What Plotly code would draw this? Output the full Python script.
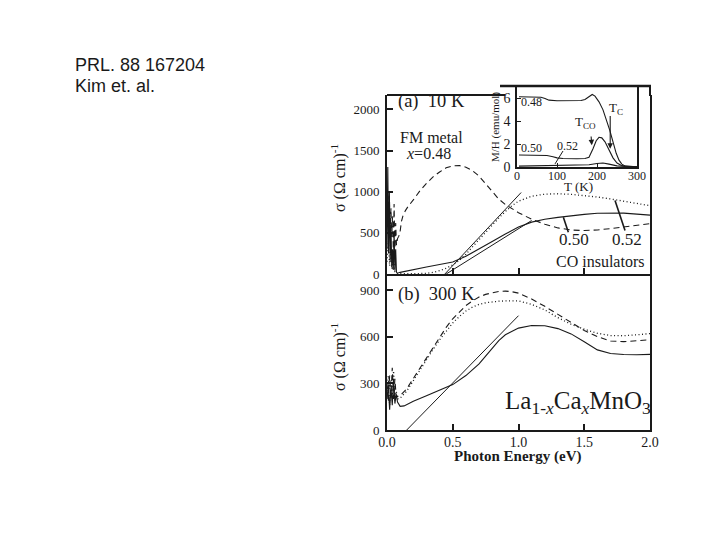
import plotly.graph_objects as go

W, H = 720, 540
OFF = 8  # page body margin of the html page
def fx(p): return (p - OFF) / W
def fy(p): return 1 - (p - OFF) / H

# ---------------- panel (a) 10 K ----------------
a_x048 = [0.0, 0.006, 0.012, 0.018, 0.024, 0.03, 0.036, 0.042, 0.048, 0.054, 0.06, 0.066, 0.072, 0.08, 0.09,
          0.1, 0.11, 0.12, 0.14, 0.16, 0.2, 0.25, 0.3, 0.35, 0.4, 0.45, 0.5, 0.55, 0.6, 0.65, 0.7, 0.75, 0.8,
          0.85, 0.9, 0.95, 1.0, 1.1, 1.2, 1.3, 1.4, 1.5, 1.6, 1.7, 1.8, 1.9, 2.0]
a_y048 = [650, 1000, 700, 950, 500, 800, 450, 700, 300, 850, 250, 620, 350, 430, 460,
          520, 640, 700, 770, 820, 900, 1010, 1100, 1180, 1240, 1290, 1315, 1318, 1298, 1255, 1190, 1100, 1000,
          910, 845, 793, 745, 665, 605, 560, 535, 528, 535, 552, 572, 592, 612]

a_x050 = [0.0, 0.006, 0.012, 0.018, 0.024, 0.03, 0.036, 0.042, 0.048, 0.054, 0.06, 0.066, 0.072, 0.08,
          0.1, 0.2, 0.3, 0.4, 0.5, 0.6, 0.7, 0.8, 0.9, 1.0, 1.1, 1.2, 1.3, 1.4, 1.5, 1.6, 1.7, 1.8, 1.9, 2.0]
a_y050 = [300, 1300, 250, 1000, 150, 600, 80, 300, 50, 500, 40, 300, 20, 10,
          20, 55, 85, 115, 145, 215, 300, 395, 485, 570, 630, 665, 688, 708, 725, 738, 742, 740, 728, 715]

a_x052 = [0.0, 0.01, 0.02, 0.03, 0.04, 0.05, 0.06, 0.08, 0.2, 0.3, 0.35, 0.4, 0.45, 0.5, 0.55, 0.6, 0.65,
          0.7, 0.75, 0.8, 0.85, 0.9, 0.95, 1.0, 1.05, 1.1, 1.2, 1.3, 1.4, 1.5, 1.6, 1.7, 1.8, 1.9, 2.0]
a_y052 = [150, 400, 100, 300, 50, 200, 20, 5, 3, 8, 20, 40, 70, 110, 165, 240, 330,
          420, 510, 600, 680, 760, 830, 885, 920, 945, 970, 975, 968, 955, 935, 912, 882, 855, 830]

a_fit052_x = [0.44, 1.02]
a_fit052_y = [0, 990]
a_fit050_x = [0.45, 1.1]
a_fit050_y = [0, 650]

a_ptr050_x = [1.341, 1.379]
a_ptr050_y = [690, 508]
a_ptr052_x = [1.734, 1.81]
a_ptr052_y = [894, 529]

# ---------------- panel (b) 300 K ----------------
b_x048 = [0.0, 0.01, 0.02, 0.03, 0.04, 0.05, 0.06, 0.07, 0.08, 0.1, 0.15, 0.2, 0.25, 0.3, 0.35, 0.4, 0.45,
          0.5, 0.55, 0.6, 0.65, 0.7, 0.75, 0.8, 0.85, 0.9, 0.95, 1.0, 1.1, 1.2, 1.3, 1.4, 1.5, 1.6, 1.7,
          1.8, 1.9, 2.0]
b_y048 = [300, 180, 350, 220, 400, 200, 330, 210, 215, 220, 265, 330, 396, 462, 530, 598, 660,
          715, 760, 800, 830, 855, 872, 884, 891, 893, 889, 880, 842, 795, 742, 690, 640, 600, 572,
          568, 573, 580]

b_x052 = [0.0, 0.01, 0.02, 0.03, 0.04, 0.05, 0.06, 0.07, 0.08, 0.1, 0.15, 0.2, 0.25, 0.3, 0.35, 0.4, 0.45,
          0.5, 0.55, 0.6, 0.65, 0.7, 0.75, 0.8, 0.85, 0.9, 0.95, 1.0, 1.1, 1.2, 1.3, 1.4, 1.5, 1.6, 1.7,
          1.8, 1.9, 2.0]
b_y052 = [250, 350, 160, 300, 200, 380, 190, 250, 200, 205, 250, 318, 388, 452, 518, 580, 637,
          688, 730, 765, 790, 808, 818, 825, 828, 830, 831, 830, 808, 772, 722, 680, 648, 622, 607,
          606, 612, 620]

b_x050 = [0.0, 0.01, 0.02, 0.03, 0.04, 0.05, 0.06, 0.07, 0.08, 0.1, 0.13, 0.2, 0.3, 0.4, 0.5, 0.6, 0.7,
          0.8, 0.85, 0.9, 1.0, 1.1, 1.2, 1.3, 1.4, 1.5, 1.6, 1.7, 1.8, 1.9, 2.0]
b_y050 = [200, 290, 130, 270, 160, 330, 170, 230, 180, 152, 155, 185, 220, 255, 292, 350, 425,
          525, 575, 612, 655, 672, 670, 652, 618, 568, 515, 492, 485, 484, 486]

b_fit_x = [0.15, 1.0]
b_fit_y = [0, 735]

# ---------------- inset M/H vs T ----------------
t048 = [5, 20, 40, 60, 70, 80, 100, 120, 140, 160, 170, 180, 188, 195, 205, 215, 225, 232, 240, 248,
        255, 262, 270, 280, 290, 300]
m048 = [6.15, 6.15, 6.15, 6.1, 6.0, 5.85, 5.8, 5.8, 5.8, 5.82, 5.9, 6.15, 6.35, 6.2, 5.7, 5.0, 4.0, 3.2,
        2.2, 1.2, 0.6, 0.25, 0.1, 0.05, 0.03, 0.02]
t050 = [5, 20, 40, 60, 75, 90, 100, 115, 130, 150, 170, 180, 190, 198, 205, 212, 220, 230, 240, 250,
        260, 270, 285, 300]
m050 = [1.05, 1.05, 1.0, 1.0, 1.0, 0.9, 0.8, 0.74, 0.72, 0.72, 0.75, 0.85, 1.6, 2.3, 2.6, 2.55, 2.2, 1.5,
        0.8, 0.35, 0.15, 0.07, 0.04, 0.02]
t052 = [5, 50, 100, 150, 180, 200, 215, 230, 250, 270, 300]
m052 = [0.08, 0.1, 0.12, 0.15, 0.2, 0.3, 0.35, 0.25, 0.1, 0.05, 0.02]
inset_ptr052_t = [115, 95]
inset_ptr052_m = [1.4, 0.27]

e_ticks = [0, 0.5, 1.0, 1.5, 2.0]
e_ticktext = ["0.0", "0.5", "1.0", "1.5", "2.0"]
a_ticks = [0, 500, 1000, 1500, 2000]
b_ticks = [0, 300, 600, 900]
t_ticks = [0, 100, 200, 300]
m_ticks = [0, 2, 4, 6]

INK = "#1a1a1a"
SERIF = "Liberation Serif"

fig = go.Figure()

def add(x, y, xa, ya, dash="solid", width=1.1):
    fig.add_trace(go.Scatter(x=x, y=y, xaxis=xa, yaxis=ya, mode="lines",
                             line=dict(color=INK, width=width, dash=dash),
                             hoverinfo="skip", showlegend=False))

# panel a
add(a_x048, a_y048, "x2", "y2", dash="6px,4px")
add(a_x052, a_y052, "x2", "y2", dash="1px,2.5px", width=1.3)
add(a_x050, a_y050, "x2", "y2")
add(a_fit052_x, a_fit052_y, "x2", "y2", width=1)
add(a_fit050_x, a_fit050_y, "x2", "y2", width=1)
add(a_ptr050_x, a_ptr050_y, "x2", "y2", width=1.6)
add(a_ptr052_x, a_ptr052_y, "x2", "y2", width=1.6)
# panel b
add(b_x048, b_y048, "x", "y", dash="6px,4px")
add(b_x052, b_y052, "x", "y", dash="1px,2.5px", width=1.3)
add(b_x050, b_y050, "x", "y")
add(b_fit_x, b_fit_y, "x", "y", width=1)
# inset
add(t048, m048, "x3", "y3")
add(t050, m050, "x3", "y3")
add(t052, m052, "x3", "y3")
add(inset_ptr052_t, inset_ptr052_m, "x3", "y3", width=1)

tickfont = dict(family=SERIF, size=13, color=INK)
common_x = dict(range=[0, 2.0], tickvals=e_ticks, ticktext=e_ticktext, ticks="inside", ticklen=6,
                tickwidth=1.5, tickcolor=INK, showline=True, linewidth=2, linecolor=INK,
                showgrid=False, zeroline=False, domain=[fx(387), fx(650)], automargin=False)

fig.update_layout(
    template="none",
    width=W, height=H, margin=dict(l=0, r=0, t=0, b=0, pad=0, autoexpand=False),
    paper_bgcolor="white", plot_bgcolor="white", showlegend=False,
    font=dict(family=SERIF, color=INK),
    xaxis=dict(**common_x, anchor="y", tickfont=dict(family=SERIF, size=14, color=INK), ticklabelstandoff=-2),
    yaxis=dict(domain=[fy(430), fy(274)], range=[0, 1003], tickvals=b_ticks, ticks="inside", ticklen=6,
               tickwidth=1.5, tickcolor=INK, showline=True, linewidth=2, linecolor=INK, mirror=True,
               showgrid=False, zeroline=False, anchor="x", tickfont=tickfont, ticklabelstandoff=3,
               automargin=False),
    xaxis2=dict(**common_x, anchor="y2", showticklabels=False),
    yaxis2=dict(domain=[fy(274), fy(95)], range=[0, 2175], tickvals=a_ticks, ticks="inside", ticklen=6,
                tickwidth=1.5, tickcolor=INK, showline=True, linewidth=2, linecolor=INK, mirror=True,
                showgrid=False, zeroline=False, anchor="x2", tickfont=tickfont, ticklabelstandoff=3,
                automargin=False),
    xaxis3=dict(domain=[fx(517), fx(637)], range=[0, 300], tickvals=t_ticks, ticks="inside", ticklen=4,
                tickwidth=1.2, tickcolor=INK, showline=True, linewidth=1.5, linecolor=INK, mirror=True,
                showgrid=False, zeroline=False, anchor="y3", tickfont=dict(family=SERIF, size=12, color=INK),
                ticklabelstandoff=-3, automargin=False),
    yaxis3=dict(domain=[fy(167), fy(87)], range=[0, 7], tickvals=m_ticks, ticks="inside", ticklen=4,
                tickwidth=1.2, tickcolor=INK, showline=True, linewidth=1.5, linecolor=INK, mirror=True,
                showgrid=False, zeroline=False, anchor="x3", tickfont=dict(family=SERIF, size=14, color=INK),
                ticklabelstandoff=2, automargin=False),
)

# extra frame segments around the inset (panel a top edge)
frame = [
    (387, 95, 505, 95, 2),
    (500, 86, 651, 86, 2.5),
    (650, 86, 650, 96, 2),
]
for x0, y0, x1, y1, w in frame:
    fig.add_shape(type="line", xref="paper", yref="paper", x0=fx(x0), y0=fy(y0), x1=fx(x1), y1=fy(y1),
                  line=dict(color=INK, width=w), layer="above")

def note(text, x, y, xref, yref, size, angle=0, family=SERIF, xanchor="center"):
    fig.add_annotation(text=text, x=x, y=y, xref=xref, yref=yref, showarrow=False,
                       font=dict(family=family, size=size, color=INK), textangle=angle,
                       xanchor=xanchor, yanchor="middle")

# top-left citation
note("PRL. 88 167204", fx(73), fy(65), "paper", "paper", 18, family="Liberation Sans", xanchor="left")
note("Kim et. al.", fx(73), fy(86), "paper", "paper", 18, family="Liberation Sans", xanchor="left")

# axis titles
note("σ (Ω cm)<sup>-1</sup>", fx(338), fy(178), "paper", "paper", 16, angle=-90)
note("σ (Ω cm)<sup>-1</sup>", fx(338), fy(357), "paper", "paper", 16, angle=-90)
note("<b>Photon Energy (eV)</b>", fx(518), fy(456), "paper", "paper", 15)
note("M/H (emu/mol)", fx(496), fy(127), "paper", "paper", 11, angle=-90)
note("T (K)", fx(578), fy(186), "paper", "paper", 13)

# panel a labels
note("(a)  10 K", 0.342, 2097, "x2", "y2", 18.5)
note("FM metal", 0.342, 1660, "x2", "y2", 16)
note("<i>x</i>=0.48", 0.312, 1465, "x2", "y2", 16)
note("0.50", 1.422, 419, "x2", "y2", 17)
note("0.52", 1.825, 419, "x2", "y2", 17)
note("CO insulators", 1.62, 152, "x2", "y2", 16)

# panel b labels
note("(b)  300 K", 0.373, 874, "x", "y", 18.5)
note("La<sub>1-<i>x</i></sub>Ca<sub><i>x</i></sub>MnO<sub>3</sub>", 1.452, 180, "x", "y", 25)

# inset labels
note("0.48", 37, 5.7, "x3", "y3", 12)
note("0.50", 35, 1.7, "x3", "y3", 12)
note("0.52", 125, 1.85, "x3", "y3", 12)
note("T<sub>CO</sub>", 170, 3.85, "x3", "y3", 13)
note("T<sub>C</sub>", 248, 5.1, "x3", "y3", 13)

for tip_t, tip_m, tail_t, tail_m in [(187, 1.9, 185, 2.8), (233, 1.6, 233, 4.6)]:
    fig.add_annotation(x=tip_t, y=tip_m, ax=tail_t, ay=tail_m, xref="x3", yref="y3", axref="x3", ayref="y3",
                       showarrow=True, arrowhead=2, arrowsize=1, arrowwidth=1.1, arrowcolor=INK, text="")

fig.write_html("out.html")
